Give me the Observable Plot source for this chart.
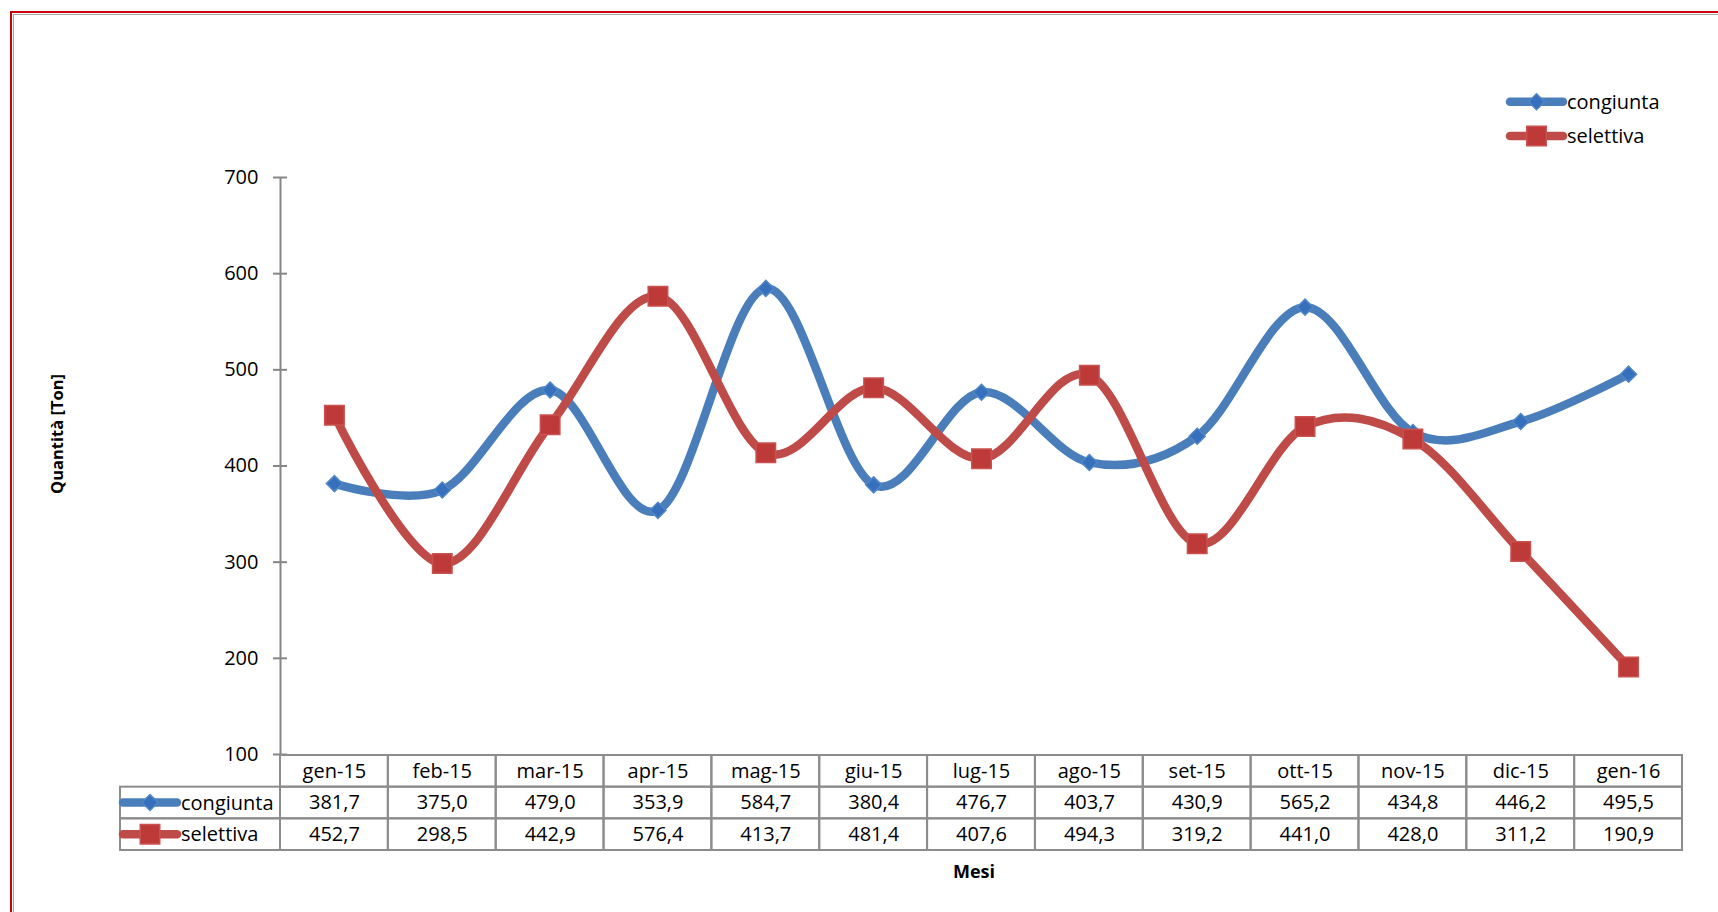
<!DOCTYPE html>
<html><head><meta charset="utf-8">
<script src="https://cdn.jsdelivr.net/npm/d3@7"></script>
<script src="https://cdn.jsdelivr.net/npm/@observablehq/plot@0.6"></script>
<style>
body{margin:0;background:#fff;}
#wrap{position:relative;width:1718px;height:912px;overflow:hidden;background:#fff;font-family:"Open Sans",sans-serif;}
#wrap > svg{position:absolute;left:0;}
.bred{position:absolute;left:10px;top:11px;width:1800px;height:1000px;border-top:2px solid #c8000a;border-left:2px solid #c8000a;}
.bgray{position:absolute;left:13px;top:14px;width:1800px;height:1000px;border-top:1.5px solid #a6a6a6;border-left:1.5px solid #a6a6a6;}
</style></head><body><div id="wrap"><div class="bred"></div><div class="bgray"></div></div>
<script>
const months = ["gen-15","feb-15","mar-15","apr-15","mag-15","giu-15","lug-15","ago-15","set-15","ott-15","nov-15","dic-15","gen-16"];
const congiunta = [381.7,375.0,479.0,353.9,584.7,380.4,476.7,403.7,430.9,565.2,434.8,446.2,495.5];
const selettiva = [452.7,298.5,442.9,576.4,413.7,481.4,407.6,494.3,319.2,441.0,428.0,311.2,190.9];
const yTicks = [100,200,300,400,500,600,700];
const seriesNames = ["congiunta","selettiva"];
const xTitle = "Mesi";
const yTitle = "Quantità [Ton]";

const values = {congiunta, selettiva};
const style = {
  congiunta: {line:"#4a7ebb", fill:"#3670bd", stroke:"#4f86c6", symbol:"diamond2", r:7.2},
  selettiva: {line:"#be4b48", fill:"#bd3a38", stroke:"#c9514f", symbol:"square", r:11}
};
const FS = 20;
const fmt = v => v.toFixed(1).replace(".", ",");

const W = 1718, L = 280, R = 1682;
const step = (R - L) / months.length;
const wrap = document.getElementById("wrap");

const data = seriesNames.flatMap(s => months.map((m, i) => ({serie:s, month:m, i, v:values[s][i]})));

const seriesMarks = seriesNames.flatMap(s => {
  const d = data.filter(e => e.serie === s);
  const st = style[s];
  return [
    Plot.line(d, {x: e => e.i + 0.5, y: "v", curve: "cardinal", stroke: st.line, strokeWidth: 8.5, strokeLinecap: "round", strokeLinejoin: "round"}),
    Plot.dot(d, {x: e => e.i + 0.5, y: "v", symbol: st.symbol, r: st.r, fill: st.fill, stroke: st.stroke, strokeWidth: 1.5})
  ];
});

const chart = Plot.plot({
  width: W, height: 760,
  marginLeft: L, marginRight: W - R, marginTop: 177, marginBottom: 6,
  style: {background: "transparent", fontFamily: "Open Sans", fontSize: FS + "px", color: "#000", overflow: "visible"},
  x: {domain: [0, months.length], axis: null},
  y: {domain: [100, 700], axis: null},
  marks: [
    Plot.ruleX([0], {y1: 100, y2: 700, stroke: "#868686", strokeWidth: 2}),
    Plot.axisY({ticks: yTicks, tickSize: 14, dx: 7, tickPadding: 15, stroke: "#868686", strokeWidth: 2, fill: "#000", fontSize: FS, label: null, tickFormat: d => d}),
    ...seriesMarks
  ]
});
chart.style.top = "0px";
wrap.appendChild(chart);

// table
const rowsTop = 754;
const legX = -(L - 120) / step;
const cells = [];
const texts = [];
months.forEach((m, i) => {
  cells.push({x1: i, x2: i + 1, y1: 0, y2: 1});
  texts.push({x: i + 0.5, y: 0.5, t: m});
  seriesNames.forEach((s, k) => {
    cells.push({x1: i, x2: i + 1, y1: k + 1, y2: k + 2});
    texts.push({x: i + 0.5, y: k + 1.5, t: fmt(values[s][i])});
  });
});
seriesNames.forEach((s, k) => cells.push({x1: legX, x2: 0, y1: k + 1, y2: k + 2}));

const table = Plot.plot({
  width: W, height: 100,
  marginLeft: L, marginRight: W - R, marginTop: 1, marginBottom: 4,
  style: {background: "transparent", fontFamily: "Open Sans", fontSize: FS + "px", color: "#000", overflow: "visible"},
  x: {domain: [0, months.length], axis: null},
  y: {domain: [0, 3], range: [1, 96], axis: null},
  marks: [
    Plot.rect(cells, {x1: "x1", x2: "x2", y1: "y1", y2: "y2", fill: "none", stroke: "#8c8c8c", strokeWidth: 2}),
    Plot.text(texts, {x: "x", y: "y", text: "t", fill: "#000", fontSize: FS})
  ]
});
table.style.top = rowsTop + "px";
wrap.appendChild(table);

// overlay: legends and axis titles
const ov = d3.select(wrap).append("svg")
  .attr("width", W).attr("height", 912)
  .style("position", "absolute").style("top", "0px").style("left", "0px")
  .style("font-family", "Open Sans");

function swatch(s, x0, x1, y, tx) {
  const st = style[s];
  ov.append("line").attr("x1", x0).attr("x2", x1).attr("y1", y).attr("y2", y)
    .attr("stroke", st.line).attr("stroke-width", 8.5).attr("stroke-linecap", "round");
  const sym = st.symbol === "diamond2" ? d3.symbolDiamond2 : d3.symbolSquare;
  ov.append("path").attr("d", d3.symbol(sym, Math.PI * st.r * st.r)())
    .attr("transform", `translate(${(x0 + x1) / 2},${y})`)
    .attr("fill", st.fill).attr("stroke", st.stroke).attr("stroke-width", 1.5);
  ov.append("text").attr("x", tx).attr("y", y).attr("dy", "0.35em")
    .attr("font-size", FS).attr("fill", "#000").text(s);
}
const rowH = 95 / 3;
seriesNames.forEach((s, k) => {
  swatch(s, 1510, 1563, 101.7 + k * 34.3, 1567);
  swatch(s, 123, 177, rowsTop + 1 + rowH * (k + 1.5), 181);
});

ov.append("text").attr("x", 974).attr("y", 872).attr("dy", "0.35em")
  .attr("text-anchor", "middle").attr("font-weight", "bold").attr("font-size", 18).text(xTitle);
ov.append("text").attr("transform", "translate(57,434) rotate(-90)").attr("dy", "0.35em")
  .attr("text-anchor", "middle").attr("font-weight", "bold").attr("font-size", 16.5).text(yTitle);
</script>
</body></html>
